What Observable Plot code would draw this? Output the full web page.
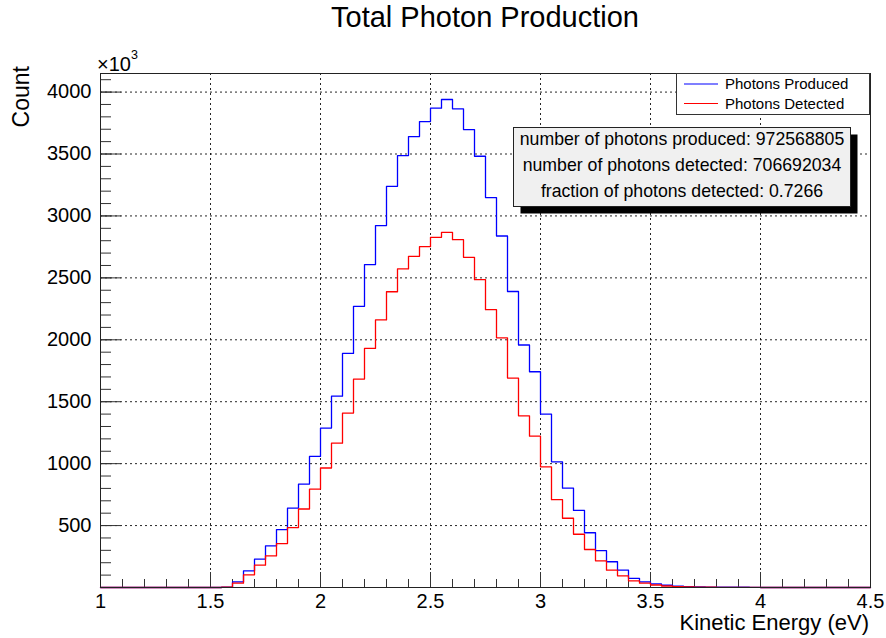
<!DOCTYPE html>
<html>
<head>
<meta charset="utf-8">
<script src="https://cdn.jsdelivr.net/npm/d3@7"></script>
<script src="https://cdn.jsdelivr.net/npm/@observablehq/plot@0.6"></script>
<style>
  body { margin: 0; background: #fff; }
  #chart { width: 886px; height: 638px; }
  svg { font-family: "Liberation Sans", Arial, Helvetica, sans-serif; }
</style>
</head>
<body>
<div id="chart"></div>
<script>
// Lower edge of each 0.05 eV energy bin (eV)
const binLow = [
  1.00, 1.05, 1.10, 1.15, 1.20, 1.25, 1.30, 1.35, 1.40, 1.45,
  1.50, 1.55, 1.60, 1.65, 1.70, 1.75, 1.80, 1.85, 1.90, 1.95,
  2.00, 2.05, 2.10, 2.15, 2.20, 2.25, 2.30, 2.35, 2.40, 2.45,
  2.50, 2.55, 2.60, 2.65, 2.70, 2.75, 2.80, 2.85, 2.90, 2.95,
  3.00, 3.05, 3.10, 3.15, 3.20, 3.25, 3.30, 3.35, 3.40, 3.45,
  3.50, 3.55, 3.60, 3.65, 3.70, 3.75, 3.80, 3.85, 3.90, 3.95,
  4.00, 4.05, 4.10, 4.15, 4.20, 4.25, 4.30, 4.35, 4.40, 4.45
];
const binHigh = 4.5;

// Counts per bin, in thousands
const produced = [
  0, 0, 0, 0, 0, 0, 0, 0, 0, 0,
  0, 2, 45, 134, 229, 336, 468, 641, 835, 1058,
  1287, 1545, 1890, 2270, 2607, 2922, 3239, 3487, 3641, 3762,
  3870, 3940, 3865, 3697, 3482, 3148, 2838, 2390, 1958, 1742,
  1400, 1015, 802, 622, 442, 297, 208, 140, 74, 46,
  29, 18, 10, 6, 4, 3, 2, 2, 2, 1,
  0, 0, 0, 0, 0, 0, 0, 0, 0, 0
];
const detected = [
  0, 0, 0, 0, 0, 0, 0, 0, 0, 0,
  0, 2, 35, 102, 180, 255, 355, 484, 634, 794,
  965, 1165, 1408, 1683, 1930, 2160, 2388, 2572, 2674, 2752,
  2827, 2868, 2808, 2666, 2485, 2243, 2016, 1691, 1386, 1222,
  974, 709, 559, 430, 307, 215, 140, 94, 53, 35,
  20, 12, 7, 4, 3, 2, 1, 1, 1, 1,
  0, 0, 0, 0, 0, 0, 0, 0, 0, 0
];

const seriesNames = ["Photons Produced", "Photons Detected"];
const seriesColors = ["#0000ff", "#ff0000"];

const statLines = [
  "number of photons produced: 972568805",
  "number of photons detected: 706692034",
  "fraction of photons detected: 0.7266"
];

const xTicks = [1, 1.5, 2, 2.5, 3, 3.5, 4, 4.5];
const xGrid = [1.5, 2, 2.5, 3, 3.5, 4];
const yTicks = [500, 1000, 1500, 2000, 2500, 3000, 3500, 4000];
const yMax = 4150;

const W = 886, H = 638;
const mL = 100, mR = 16, mT = 73, mB = 51;
const frameW = W - mL - mR, frameH = H - mT - mB;
const font = '"Liberation Sans", Arial, Helvetica, sans-serif';

// Minor tick positions: every 0.1 eV and every 100 counts
const xMinor = d3.range(11, 45).map(i => i / 10);
const yMinor = d3.range(1, 42).map(i => i * 100);

// Histogram outline: one point per bin edge, drawn as a step line
function steps(values) {
  const pts = binLow.map((x, i) => ({x, y: values[i]}));
  pts.push({x: binHigh, y: values[values.length - 1]});
  return pts;
}

const gridStyle = {stroke: "#000", strokeWidth: 1, strokeDasharray: "2,3", strokeOpacity: 0.85};

const plot = Plot.plot({
  width: W, height: H,
  marginLeft: mL, marginRight: mR, marginTop: mT, marginBottom: mB,
  style: {fontFamily: font, fontSize: "20px", color: "#000", background: "#fff", overflow: "visible"},
  x: {domain: [1, 4.5], ticks: xTicks, tickFormat: d => String(d), tickSize: 0, tickPadding: 6, label: null},
  y: {domain: [0, yMax], ticks: yTicks, tickFormat: d => String(d), tickSize: 0, tickPadding: 9, label: null},
  marks: [
    Plot.ruleX(xGrid, gridStyle),
    Plot.ruleY(yTicks, gridStyle),
    Plot.ruleX(xMinor, {stroke: "#333", insetTop: frameH - 8}),
    Plot.ruleX(xTicks, {stroke: "#333", insetTop: frameH - 15}),
    Plot.ruleY(yMinor, {stroke: "#333", insetRight: frameW - 11}),
    Plot.ruleY(yTicks, {stroke: "#333", insetRight: frameW - 21}),
    Plot.line(steps(produced), {x: "x", y: "y", curve: "step-after", stroke: seriesColors[0], strokeWidth: 1.3}),
    Plot.line(steps(detected), {x: "x", y: "y", curve: "step-after", stroke: seriesColors[1], strokeWidth: 1.3}),
    Plot.frame({stroke: "#222", strokeWidth: 1})
  ]
});

document.getElementById("chart").appendChild(plot);

const svg = d3.select(plot);

// Title
svg.append("text")
  .attr("x", 485).attr("y", 27)
  .attr("text-anchor", "middle")
  .style("font-family", font).style("font-size", "29px")
  .text("Total Photon Production");

// Axis titles
svg.append("text")
  .attr("x", 869).attr("y", 630)
  .attr("text-anchor", "end")
  .style("font-family", font).style("font-size", "22px")
  .text("Kinetic Energy (eV)");

svg.append("text")
  .attr("transform", "translate(28.5,66) rotate(-90)")
  .attr("text-anchor", "end")
  .style("font-family", font).style("font-size", "23px")
  .text("Count");

// Axis multiplier
const mult = svg.append("text")
  .attr("x", 97).attr("y", 71)
  .attr("text-anchor", "start")
  .style("font-family", font).style("font-size", "20px");
mult.append("tspan").text("\u00d710");
mult.append("tspan").attr("dy", -12.5).style("font-size", "12.5px").text("3");

// Legend box
const lg = svg.append("g");
lg.append("rect")
  .attr("x", 676.5).attr("y", 73.5).attr("width", 193).attr("height", 41)
  .attr("fill", "#fff").attr("stroke", "#333");
seriesNames.forEach((name, i) => {
  const cy = 84 + i * 19.5;
  lg.append("line")
    .attr("x1", 684).attr("x2", 718).attr("y1", cy).attr("y2", cy)
    .attr("stroke", seriesColors[i]).attr("stroke-width", 1.2);
  lg.append("text")
    .attr("x", 725).attr("y", cy).attr("dy", "0.36em")
    .attr("text-anchor", "start")
    .style("font-family", font).style("font-size", "15px")
    .text(name);
});

// Statistics box with drop shadow
const st = svg.append("g");
st.append("rect")
  .attr("x", 520.5).attr("y", 134.5).attr("width", 337).attr("height", 79)
  .attr("fill", "#000");
st.append("rect")
  .attr("x", 513.5).attr("y", 127.5).attr("width", 337).attr("height", 79)
  .attr("fill", "#f0f0f0").attr("stroke", "#222");
statLines.forEach((line, i) => {
  st.append("text")
    .attr("x", 682).attr("y", 145 + i * 26)
    .attr("text-anchor", "middle")
    .style("font-family", font).style("font-size", "17.7px")
    .text(line);
});
</script>
</body>
</html>
